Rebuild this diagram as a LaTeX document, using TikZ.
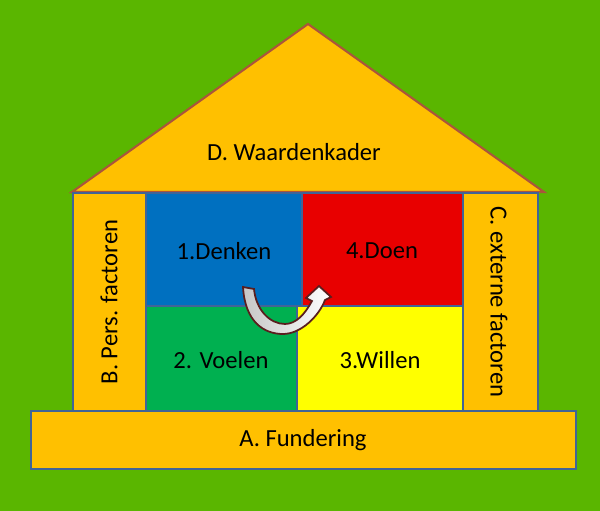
\documentclass[tikz,border=0pt]{standalone}
\usepackage{fontspec}
\setmainfont{Carlito}
\definecolor{achter}{RGB}{90,182,0}
\definecolor{goud}{RGB}{255,192,0}
\definecolor{blauw}{RGB}{0,112,192}
\definecolor{rood}{RGB}{232,0,0}
\definecolor{groen}{RGB}{0,176,80}
\definecolor{geel}{RGB}{255,255,0}
\definecolor{rand}{RGB}{65,100,150}
\definecolor{dakrand}{RGB}{170,85,60}
\definecolor{pijlrand}{RGB}{90,30,30}
\tikzset{
  vak/.style={draw=rand, line width=1.2pt},
  label/.style={font=\fontsize{14}{16}\selectfont, text=black}
}
\begin{document}
\begin{tikzpicture}[x=0.02cm, y=-0.02cm]
  \fill[achter] (0,0) rectangle (600,511);
  \useasboundingbox (0,0) rectangle (600,511);
  % dak
  \coordinate (DL) at (72,192);
  \coordinate (DR) at (544,192);
  \coordinate (DT) at (308,24);
  \draw[fill=goud, draw=dakrand, line width=1.2pt] (DL) -- (DT) -- (DR) -- cycle;
  \node[label] (waarden) at (294,152) {D. Waardenkader};
  % zuilen
  \draw[vak, fill=goud] (73,193) rectangle (146,411);
  \draw[vak, fill=goud] (463,193) rectangle (538,411);
  \node[label, rotate=90] (pers) at (109,302) {B. Pers. factoren};
  \node[label, rotate=-90] (extern) at (499,302) {C. externe factoren};
  % vier vakken
  \draw[vak, fill=blauw] (146,193) rectangle (302,306);
  \draw[vak, fill=rood] (302,193) rectangle (463,306);
  \draw[vak, fill=groen] (146,306) rectangle (297,411);
  \draw[vak, fill=geel] (297,306) rectangle (463,411);
  \node[label] (denken) at (224,251) {1.Denken};
  \node[label] (doen) at (382,251) {4.Doen};
  \node[label] (voelen) at (221,360) {2. Voelen};
  \node[label] (willen) at (380,360) {3.Willen};
  % fundering
  \draw[vak, fill=goud] (31,411) rectangle (576,469);
  \node[label] (fundering) at (303,440) {A. Fundering};
  % pijl
  \draw[draw=pijlrand, line width=1pt, left color=gray!45, right color=white]
    (243,287) .. controls (245,322) and (264,334) .. (283,334)
    .. controls (301,334) and (319,316) .. (325,300)
    -- (331,297) -- (319,286) -- (306,298) -- (312,301)
    .. controls (305,314) and (296,324) .. (285,324)
    .. controls (270,324) and (256,310) .. (254,289) -- cycle;
\end{tikzpicture}
\end{document}
